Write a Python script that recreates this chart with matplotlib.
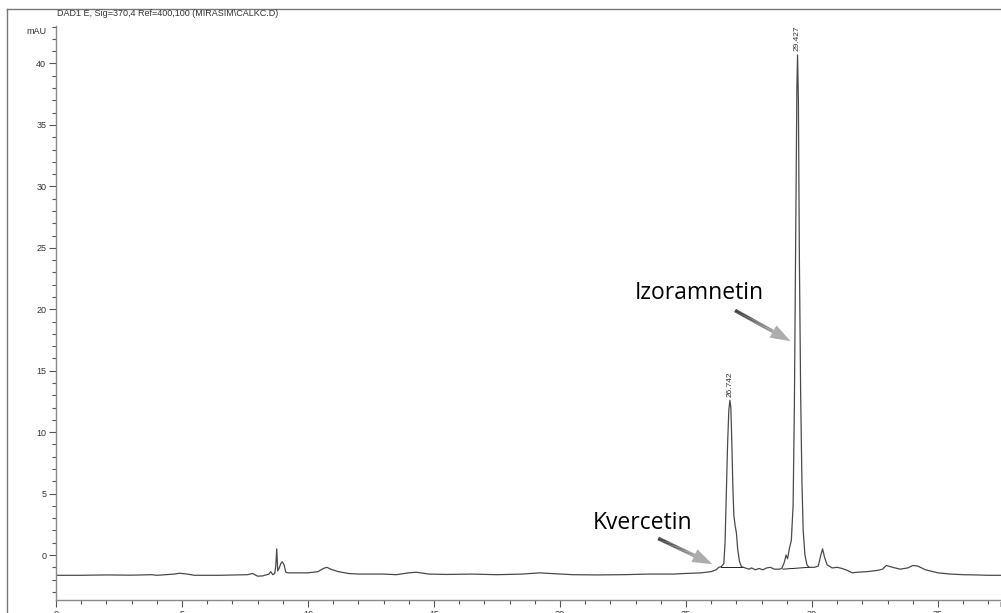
import numpy as np
import matplotlib
matplotlib.use("Agg")
import matplotlib.pyplot as plt
from matplotlib.collections import LineCollection
from matplotlib.patches import Polygon
from matplotlib.lines import Line2D
from matplotlib.ticker import MultipleLocator

# chromatogram trace (retention time in min, absorbance in mAU)
time_min = [0.0, 1.0, 2.0, 3.0, 3.8, 4.0, 4.7, 4.9, 5.2, 5.5, 6.5, 7.3, 7.6, 7.8,
            8.0, 8.2, 8.45, 8.52, 8.6, 8.68, 8.72, 8.76, 8.8, 8.85, 8.92, 8.98,
            9.05, 9.12, 9.2, 10.0, 10.4, 10.6, 10.75, 10.9, 11.2, 11.6, 12.0,
            13.0, 13.5, 14.0, 14.3, 14.8, 15.5, 16.5, 17.5, 18.5, 19.2, 19.6,
            20.5, 21.5, 22.5, 23.5, 24.5, 25.0, 25.6, 26.0, 26.2, 26.3, 26.4,
            26.5, 26.55, 26.6, 26.65, 26.7, 26.742, 26.78, 26.82, 26.86, 26.9,
            26.95, 27.0, 27.05, 27.12, 27.2, 27.35, 27.5, 27.6, 27.75, 27.9,
            28.05, 28.2, 28.35, 28.5, 28.7, 28.8, 28.9, 28.97, 29.03, 29.1,
            29.18, 29.25, 29.3, 29.35, 29.4, 29.427, 29.46, 29.5, 29.55, 29.6,
            29.65, 29.72, 29.8, 29.88, 30.1, 30.25, 30.35, 30.42, 30.5, 30.6,
            30.8, 31.0, 31.2, 31.4, 31.6, 31.8, 32.2, 32.6, 32.8, 32.95, 33.2,
            33.5, 33.8, 34.0, 34.2, 34.5, 35.0, 35.5, 36.0, 36.5, 37.0, 37.6]
signal_mau = [-1.65, -1.65, -1.62, -1.64, -1.6, -1.65, -1.55, -1.48, -1.55, -1.65,
              -1.65, -1.62, -1.6, -1.5, -1.72, -1.7, -1.55, -1.35, -1.6, -1.5,
              -0.9, 0.5, -1.3, -1.1, -0.7, -0.55, -0.8, -1.4, -1.45, -1.45,
              -1.35, -1.1, -1.0, -1.15, -1.35, -1.5, -1.55, -1.55, -1.6, -1.45,
              -1.4, -1.55, -1.58, -1.55, -1.6, -1.55, -1.45, -1.5, -1.6, -1.62,
              -1.6, -1.55, -1.55, -1.5, -1.45, -1.35, -1.2, -1.0, -0.95,
              -0.7, 1.0, 5.0, 9.0, 11.8, 12.6, 12.0, 9.0, 5.5, 3.2,
              2.4, 1.8, 0.5, -0.5, -0.95, -1.05, -1.15, -1.05, -1.2, -1.1,
              -1.2, -1.05, -1.0, -1.15, -1.15, -1.1, -0.6, 0.0, -0.3, 0.5,
              1.2, 4.0, 12.0, 25.0, 38.0, 40.7, 37.0, 24.0, 13.0, 6.0,
              2.0, 0.0, -0.8, -1.0, -1.0, -0.9, 0.0, 0.5, -0.2, -0.8,
              -1.05, -1.0, -1.1, -1.25, -1.45, -1.4, -1.35, -1.25, -1.15, -0.85, -1.0,
              -1.15, -1.05, -0.85, -0.9, -1.2, -1.45, -1.55, -1.6, -1.62, -1.65, -1.65]

# integrated peaks
peak_rt = [26.742, 29.427]
peak_top = [12.6, 40.7]
base_start = [(26.40, -0.97), (28.85, -1.15)]
base_end = [(27.22, -0.97), (29.88, -1.0)]

compounds = ["Kvercetin", "Izoramnetin"]
label_pos = [(21.3, 2.1), (22.95, 20.85)]
arrow_from = [(23.9, 1.35), (26.95, 19.9)]
arrow_to = [(26.05, -0.75), (29.15, 17.4)]

title = "DAD1 E, Sig=370,4 Ref=400,100 (MIRASIM\\CALKC.D)"

W, H = 1001, 613
fig = plt.figure(figsize=(W / 100, H / 100), dpi=100)
ax = fig.add_axes([56 / W, 13 / H, (W - 56) / W, (599 - 25) / H])

tick_font = {"family": "Liberation Sans", "size": 6.5, "color": "#333333"}

ax.plot(time_min, signal_mau, color="#4a4a4a", linewidth=0.9)
for (x0, y0), (x1, y1) in zip(base_start, base_end):
    ax.plot([x0, x1], [y0, y1], color="#222222", linewidth=0.7)

for rt, top in zip(peak_rt, peak_top):
    ax.text(rt, top + 0.3, f"{rt:.3f}", rotation=90, ha="center", va="bottom",
            fontdict={"family": "Liberation Sans", "size": 6, "color": "#333333"})

ax.set_xlim(0, 37.5)
ax.set_ylim(-3.66, 43.05)
ax.xaxis.set_major_locator(MultipleLocator(5))
ax.xaxis.set_minor_locator(MultipleLocator(1))
ax.yaxis.set_major_locator(MultipleLocator(5))
ax.yaxis.set_minor_locator(MultipleLocator(1))
for s in ["top", "right"]:
    ax.spines[s].set_visible(False)
for s in ["left", "bottom"]:
    ax.spines[s].set_color("#8a8a8a")
    ax.spines[s].set_linewidth(1.0)
ax.tick_params(which="major", length=5, width=0.8, color="#555555", pad=2)
ax.tick_params(which="minor", length=3, width=0.8, color="#555555")
ax.set_xticks(range(0, 36, 5))
ax.set_xticklabels([str(v) for v in range(0, 36, 5)], fontdict=tick_font)
ax.set_yticks(range(0, 41, 5))
ax.set_yticklabels([str(v) for v in range(0, 41, 5)], fontdict=tick_font)
ax.text(37.45, -3.66, "min", ha="left", va="top", transform=ax.transData,
        fontdict=tick_font, clip_on=False)
ax.patch.set_visible(False)

fig.text(47 / W, 1 - 31 / H, "mAU", ha="right", va="center", **tick_font)
fig.text(57 / W, 1 - 14 / H, title, ha="left", va="center", **tick_font)

# outer frame
fig.add_artist(Line2D([7 / W, 1], [1 - 9 / H, 1 - 9 / H], color="#777777", linewidth=1))
fig.add_artist(Line2D([7 / W, 7 / W], [0, 1 - 9 / H], color="#777777", linewidth=1))


def gradient_arrow(ax, start, end, head_len=20, head_w=14, shaft_w=2.6, n=40):
    p0 = ax.transData.transform(start)
    p1 = ax.transData.transform(end)
    d = p1 - p0
    length = np.hypot(*d)
    u = d / length
    perp = np.array([-u[1], u[0]])
    base = p1 - u * head_len
    pts = np.linspace(0, 1, n + 1)
    segs = [[p0 + (base - p0) * pts[i], p0 + (base - p0) * pts[i + 1]] for i in range(n)]
    shades = np.linspace(0.15, 0.6, n)
    cols = [(s, s, s) for s in shades]
    lc = LineCollection(segs, colors=cols, linewidths=shaft_w, transform=None,
                        capstyle="butt")
    fig.add_artist(lc)
    head = Polygon([p1, base + perp * head_w / 2, base - perp * head_w / 2],
                   closed=True, transform=None, facecolor=(0.68, 0.68, 0.68),
                   edgecolor="none")
    fig.add_artist(head)


fig.canvas.draw()
for name, pos, a0, a1 in zip(compounds, label_pos, arrow_from, arrow_to):
    ax.text(pos[0], pos[1], name, ha="left", va="baseline",
            fontsize=16.5, family="Open Sans", color="black")
    gradient_arrow(ax, a0, a1)

fig.savefig("out.png", dpi=100)
